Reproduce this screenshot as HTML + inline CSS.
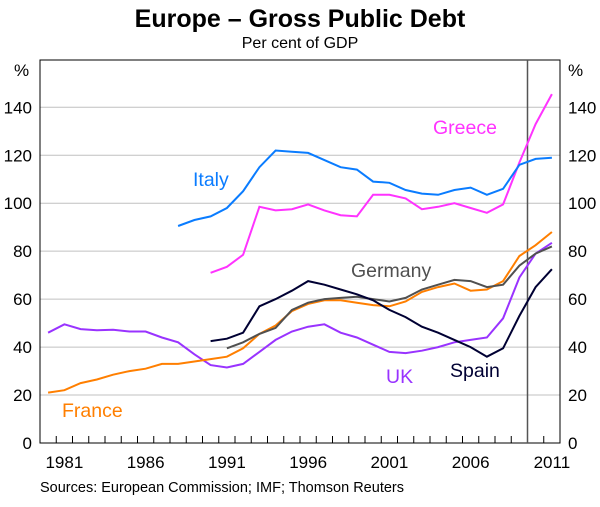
<!DOCTYPE html>
<html><head><meta charset="utf-8"><style>
body{margin:0;background:#fff;width:600px;height:502px;overflow:hidden;font-family:"Liberation Sans",Arial,sans-serif}
svg text{font-family:"Liberation Sans",Arial,sans-serif}
</style></head><body>
<svg id="c" width="600" height="502">
<text x="300" y="27" text-anchor="middle" font-size="25" font-weight="bold">Europe – Gross Public Debt</text>
<text x="300" y="48" text-anchor="middle" font-size="16">Per cent of GDP</text>
<text x="40" y="492" font-size="14.5">Sources: European Commission; IMF; Thomson Reuters</text>
<g id="grid"></g><g id="axes"></g><g id="series"></g><g id="labels"></g>
</svg>
<script>
const yTicks=[0,20,40,60,80,100,120,140];
const xLabels=[1981,1986,1991,1996,2001,2006,2011];
const ukYears=[1980,1981,1982,1983,1984,1985,1986,1987,1988,1989,1990,1991,1992,1993,1994,1995,1996,1997,1998,1999,2000,2001,2002,2003,2004,2005,2006,2007,2008,2009,2010,2011];
const ukVals=[46,49.5,47.5,47,47.2,46.5,46.5,44,42,37,32.5,31.5,33,38,43,46.5,48.5,49.5,46,44,41,38,37.5,38.5,40,42,43,44,52,69,79,83.5];
const franceYears=ukYears;
const franceVals=[21,22,25,26.5,28.5,30,31,33,33,34,35,36,39.5,45.5,49,55,58,59.5,59.5,58.5,57.5,57,59,63,65,66.5,63.5,64,67.5,78,82.5,88];
const italyYears=[1988,1989,1990,1991,1992,1993,1994,1995,1996,1997,1998,1999,2000,2001,2002,2003,2004,2005,2006,2007,2008,2009,2010,2011];
const italyVals=[90.5,93,94.5,98,105,115,122,121.5,121,118,115,114,109,108.5,105.5,104,103.5,105.5,106.5,103.5,106,116,118.5,119];
const greeceYears=[1990,1991,1992,1993,1994,1995,1996,1997,1998,1999,2000,2001,2002,2003,2004,2005,2006,2007,2008,2009,2010,2011];
const greeceVals=[71,73.5,78.5,98.5,97,97.5,99.5,97,95,94.5,103.5,103.5,102,97.5,98.5,100,98,96,99.5,117,133,145.5];
const germanyYears=[1991,1992,1993,1994,1995,1996,1997,1998,1999,2000,2001,2002,2003,2004,2005,2006,2007,2008,2009,2010,2011];
const germanyVals=[39.5,42,45.5,48,55.5,58.5,60,60.5,61,60,59,60.5,64,66,68,67.5,65,66,74,79,82];
const spainYears=[1990,1991,1992,1993,1994,1995,1996,1997,1998,1999,2000,2001,2002,2003,2004,2005,2006,2007,2008,2009,2010,2011];
const spainVals=[42.5,43.5,46,57,60,63.5,67.5,66,64,62,59.5,55.5,52.5,48.5,46,43,40,36,39.5,53,65,72.5];

const L=40,R=560,T=60,B=443,y0=1980,nY=32;
const xs=yr=>L+(yr-y0+0.5)*(R-L)/nY;
const xb=yr=>L+(yr-y0)*(R-L)/nY;
const ysc=v=>B-v*(B-107.3)/140;
const NS="http://www.w3.org/2000/svg";
function mk(tag,attrs,parent){const e=document.createElementNS(NS,tag);for(const k in attrs)e.setAttribute(k,attrs[k]);document.getElementById(parent).appendChild(e);return e;}

yTicks.forEach(v=>{
  if(v>0){const g=mk('line',{x1:L,x2:R,y1:ysc(v),y2:ysc(v),stroke:'#c0c0c0','stroke-width':1},'grid');
  
  }
  const t1=mk('text',{x:L-8,y:ysc(v)+6,'text-anchor':'end','font-size':17},'axes');t1.textContent=v;
  
  
  const t2=mk('text',{x:R+8,y:ysc(v)+6,'font-size':17},'axes');t2.textContent=v;
  
  
});
[['left',L-26],['right',R+8]].forEach(([s,x])=>{const p=mk('text',{x:x,y:76,'font-size':17},'axes');p.textContent='%';

});
const fr=mk('rect',{x:L,y:T,width:R-L,height:B-T,fill:'none',stroke:'#000','stroke-width':1},'axes');


for(let i=1;i<nY;i++){const tk=mk('line',{x1:xb(y0+i),x2:xb(y0+i),y1:B,y2:B-7,stroke:'#000'},'axes');

}
xLabels.forEach(yr=>{const t=mk('text',{x:xs(yr),y:B+25,'text-anchor':'middle','font-size':17},'axes');t.textContent=yr;

});
const vl=mk('line',{x1:xb(2010),x2:xb(2010),y1:T,y2:B,stroke:'#555','stroke-width':1.5},'axes');



const series=[
 ['uk',ukYears,ukVals,'#9933ff'],['france',franceYears,franceVals,'#ff7f00'],
 ['germany',germanyYears,germanyVals,'#505050'],['spain',spainYears,spainVals,'#000033'],
 ['greece',greeceYears,greeceVals,'#ff33ff'],['italy',italyYears,italyVals,'#0a7cff']];
series.forEach(([n,yrs,vals,c])=>{
  const d=yrs.map((yr,i)=>(i?'L':'M')+xs(yr).toFixed(1)+','+ysc(vals[i]).toFixed(1)).join('');
  const p=mk('path',{d:d,fill:'none',stroke:c,'stroke-width':2},'series');
  
  
});
const labs=[['Italy',193,186,'#0a7cff'],['Greece',433,134,'#ff33ff'],['Germany',351,277,'#505050'],['France',62,417,'#ff7f00'],['UK',386,383,'#9933ff'],['Spain',450,377,'#000033']];
labs.forEach(([t,x,y,c])=>{const e=mk('text',{x:x,y:y,'font-size':19.5,fill:c},'labels');e.textContent=t;

});
</script>
</body></html>
